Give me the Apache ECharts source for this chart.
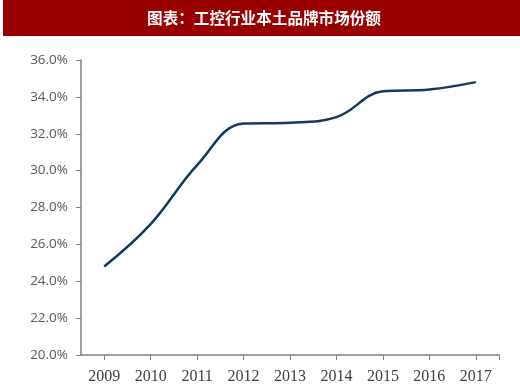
<!DOCTYPE html>
<html><head><meta charset="utf-8">
<script src="https://cdn.jsdelivr.net/npm/echarts@6/dist/echarts.min.js"></script>
<style>html,body{margin:0;padding:0;background:#fff}#c{width:520px;height:390px}</style>
</head><body><div id="c"></div>
<script>
const titleText = '图表：工控行业本土品牌市场份额';
const years = [2009, 2010, 2011, 2012, 2013, 2014, 2015, 2016, 2017];
const shares = [24.8, 27.1, 30.3, 32.55, 32.6, 32.9, 34.3, 34.4, 34.8];
const yTicks = [20, 22, 24, 26, 28, 30, 32, 34, 36];

const chart = echarts.init(document.getElementById('c'));
chart.setOption({
  animation: false,
  graphic: [
    {type: 'rect', shape: {x: 3, y: 0, width: 517, height: 36}, style: {fill: '#990000'}},
    {type: 'text', x: 264, y: 18, style: {text: titleText, fill: '#fff', font: 'bold 15.6px "Noto Sans CJK SC"', align: 'center', verticalAlign: 'middle'}}
  ],
  grid: {left: 81, right: 21, top: 60, bottom: 35},
  xAxis: {
    type: 'value', min: years[0] - 0.5, max: years[years.length - 1] + 0.5,
    axisLine: {lineStyle: {color: '#7f7f7f', width: 1.5}},
    axisTick: {show: true, length: 5, lineStyle: {color: '#7f7f7f'}, customValues: years.concat([years[years.length - 1] + 0.5])},
    axisLabel: {customValues: years, color: '#404040', fontFamily: 'Liberation Serif', fontSize: 16, margin: 14, formatter: v => String(v)},
    splitLine: {show: false}
  },
  yAxis: {
    type: 'value', min: yTicks[0], max: yTicks[yTicks.length - 1], interval: 2,
    axisLine: {show: true, lineStyle: {color: '#7f7f7f', width: 1.5}},
    axisTick: {show: true, length: 5, lineStyle: {color: '#7f7f7f'}},
    axisLabel: {color: '#595959', fontFamily: 'Open Sans', fontSize: 13.5, margin: 13, formatter: v => v.toFixed(1) + '%'},
    splitLine: {show: false}
  },
  series: [{
    type: 'line', smooth: 0.4, symbol: 'none',
    data: years.map((y, i) => [y, shares[i]]),
    lineStyle: {color: '#17375e', width: 2.5}
  }]
});
</script></body></html>
